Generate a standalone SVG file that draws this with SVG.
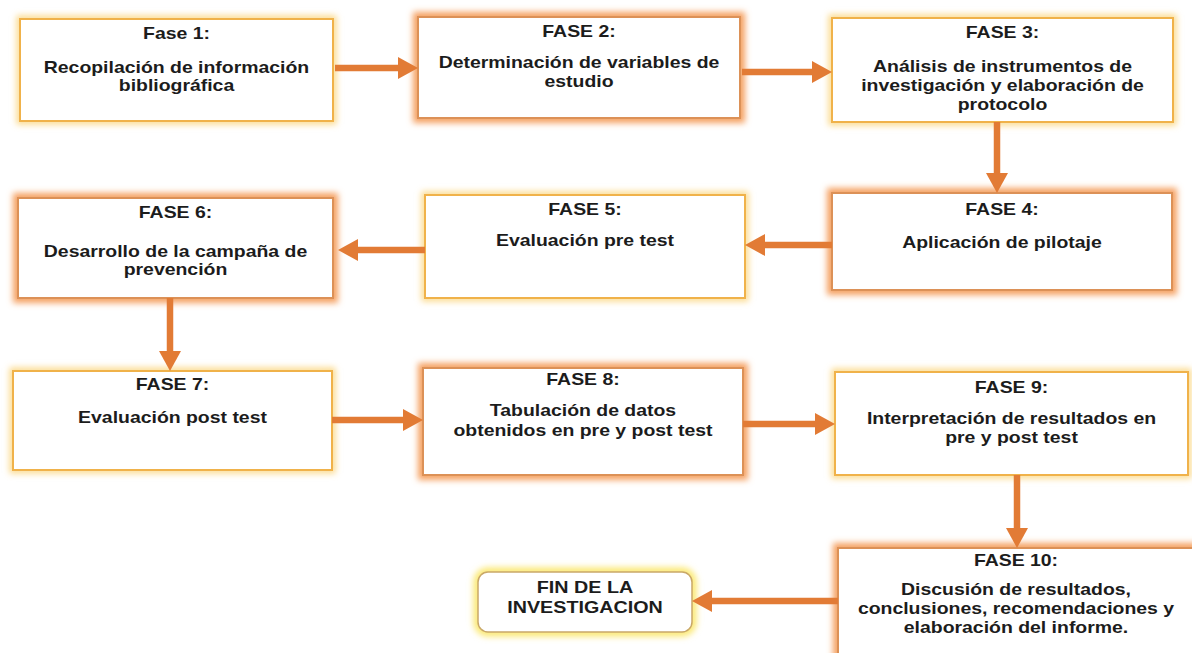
<svg xmlns="http://www.w3.org/2000/svg" width="1192" height="653" viewBox="0 0 1192 653">
<defs>
<filter id="blur" x="-20%" y="-20%" width="140%" height="140%"><feGaussianBlur stdDeviation="3.2"/></filter>
<marker id="ah" markerUnits="userSpaceOnUse" markerWidth="20" markerHeight="22" refX="2" refY="11" orient="auto"><path d="M0,0 L20,11 L0,22 z" fill="#e27b35"/></marker>
</defs>
<style>
.haloY{fill:none;stroke:#fbd98a;stroke-width:7;filter:url(#blur)}
.haloO{fill:none;stroke:#f5a060;stroke-width:10;filter:url(#blur)}
.haloF{fill:none;stroke:#fbe870;stroke-width:9;filter:url(#blur)}
.boxY{fill:#ffffff;stroke:#f0b24a;stroke-width:2}
.boxO{fill:#ffffff;stroke:#dc9157;stroke-width:2}
.boxF{fill:#ffffff;stroke:#c9a868;stroke-width:1.5}
text{font-family:"Liberation Sans",Arial,sans-serif;font-weight:bold;font-size:16.2px;fill:#1c1c1c;text-anchor:middle}
.conn line{stroke:#e27b35;stroke-width:6.5;marker-end:url(#ah)}
</style>
<rect width="1192" height="653" fill="#ffffff"/>

<g id="fase1">
<rect class="haloY" x="20" y="19" width="313" height="102"/>
<rect class="boxY" x="20" y="19" width="313" height="102"/>
<g transform="translate(176.5 0) scale(1.2 1)"><text x="0" y="39">Fase 1:</text><text x="0" y="73">Recopilación de información</text><text x="0" y="91">bibliográfica</text></g>
</g>

<g id="fase2">
<rect class="haloO" x="418" y="17" width="322" height="101"/>
<rect class="boxO" x="418" y="17" width="322" height="101"/>
<g transform="translate(579 0) scale(1.2 1)"><text x="0" y="37.5">FASE 2:</text><text x="0" y="68.5">Determinación de variables de</text><text x="0" y="87.5">estudio</text></g>
</g>

<g id="fase3">
<rect class="haloY" x="832" y="18" width="341" height="104"/>
<rect class="boxY" x="832" y="18" width="341" height="104"/>
<g transform="translate(1002.5 0) scale(1.2 1)"><text x="0" y="38">FASE 3:</text><text x="0" y="72.5">Análisis de instrumentos de</text><text x="0" y="91.5">investigación y elaboración de</text><text x="0" y="110">protocolo</text></g>
</g>

<g id="fase4">
<rect class="haloO" x="832" y="193" width="340" height="97"/>
<rect class="boxO" x="832" y="193" width="340" height="97"/>
<g transform="translate(1002 0) scale(1.2 1)"><text x="0" y="215">FASE 4:</text><text x="0" y="248">Aplicación de pilotaje</text></g>
</g>

<g id="fase5">
<rect class="haloY" x="425" y="195" width="320" height="103"/>
<rect class="boxY" x="425" y="195" width="320" height="103"/>
<g transform="translate(585 0) scale(1.2 1)"><text x="0" y="215">FASE 5:</text><text x="0" y="246.5">Evaluación pre test</text></g>
</g>

<g id="fase6">
<rect class="haloO" x="18" y="198" width="315" height="100"/>
<rect class="boxO" x="18" y="198" width="315" height="100"/>
<g transform="translate(175.5 0) scale(1.2 1)"><text x="0" y="218">FASE 6:</text><text x="0" y="257">Desarrollo de la campaña de</text><text x="0" y="275">prevención</text></g>
</g>

<g id="fase7">
<rect class="haloY" x="13" y="371" width="319" height="99"/>
<rect class="boxY" x="13" y="371" width="319" height="99"/>
<g transform="translate(172.5 0) scale(1.2 1)"><text x="0" y="390">FASE 7:</text><text x="0" y="423">Evaluación post test</text></g>
</g>

<g id="fase8">
<rect class="haloO" x="423" y="368" width="320" height="107"/>
<rect class="boxO" x="423" y="368" width="320" height="107"/>
<g transform="translate(583 0) scale(1.2 1)"><text x="0" y="385">FASE 8:</text><text x="0" y="416.5">Tabulación de datos</text><text x="0" y="436">obtenidos en pre y post test</text></g>
</g>

<g id="fase9">
<rect class="haloY" x="835" y="372" width="353" height="103"/>
<rect class="boxY" x="835" y="372" width="353" height="103"/>
<g transform="translate(1011.5 0) scale(1.2 1)"><text x="0" y="393">FASE 9:</text><text x="0" y="424">Interpretación de resultados en</text><text x="0" y="443">pre y post test</text></g>
</g>

<g id="fase10">
<rect class="haloO" x="838" y="548" width="360" height="115"/>
<rect class="boxO" x="838" y="548" width="360" height="115"/>
<g transform="translate(1016 0) scale(1.2 1)"><text x="0" y="566">FASE 10:</text><text x="0" y="595">Discusión de resultados,</text><text x="0" y="614">conclusiones, recomendaciones y</text><text x="0" y="633">elaboración del informe.</text></g>
</g>

<g id="fin">
<rect class="haloF" x="478" y="572" width="214" height="60" rx="10"/>
<rect class="boxF" x="478" y="572" width="214" height="60" rx="10"/>
<g transform="translate(585 0) scale(1.16 1)"><text x="0" y="593" style="font-size:17px">FIN DE LA</text><text x="0" y="613" style="font-size:17px">INVESTIGACION</text></g>
</g>

<g id="connectors" class="conn">
<line x1="335" y1="68" x2="400" y2="68"/>
<line x1="742" y1="72" x2="814" y2="72"/>
<line x1="997" y1="122" x2="997" y2="175"/>
<line x1="832" y1="245" x2="763" y2="245"/>
<line x1="425" y1="250" x2="356" y2="250"/>
<line x1="170" y1="298" x2="170" y2="353"/>
<line x1="332" y1="420" x2="405" y2="420"/>
<line x1="743" y1="424" x2="817" y2="424"/>
<line x1="1017" y1="475" x2="1017" y2="530"/>
<line x1="838" y1="601" x2="710" y2="601"/>
</g>
</svg>
